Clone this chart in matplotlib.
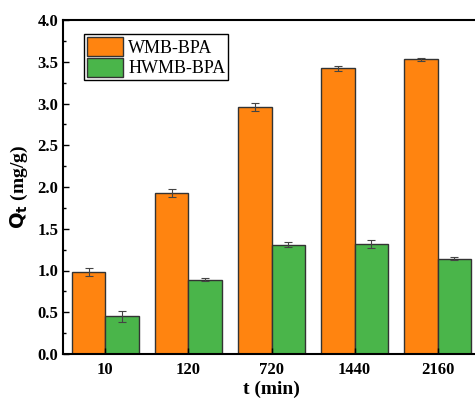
import matplotlib
matplotlib.use('Agg')
import matplotlib.pyplot as plt
import numpy as np

# data
times = ['10', '120', '720', '1440', '2160']
wmb = [0.98, 1.93, 2.96, 3.42, 3.53]
wmb_err = [0.05, 0.05, 0.05, 0.03, 0.02]
hwmb = [0.45, 0.89, 1.31, 1.32, 1.14]
hwmb_err = [0.07, 0.02, 0.03, 0.05, 0.02]

plt.rcParams['font.family'] = 'Liberation Serif'

fig = plt.figure(figsize=(4.75, 4.01), dpi=100)
ax = fig.add_axes([63 / 475, 47 / 401, 417 / 475, 334 / 401])

x = np.arange(len(times))
w = 0.4
err_kw = dict(ecolor='#444444', elinewidth=0.8, capsize=3, capthick=0.8)
ax.bar(x - w / 2, wmb, w, yerr=wmb_err, color='#FF8410', edgecolor='#333333',
       linewidth=1.0, label='WMB-BPA', error_kw=err_kw)
ax.bar(x + w / 2, hwmb, w, yerr=hwmb_err, color='#4AB54A', edgecolor='#333333',
       linewidth=1.0, label='HWMB-BPA', error_kw=err_kw)

ax.set_xlim(-0.51, 4.51)
ax.set_ylim(0, 4.0)
ax.set_xticks(x)
ax.set_xticklabels(times)
ax.set_yticks(np.arange(0, 4.01, 0.5))
ax.set_yticks(np.arange(0.25, 4.0, 0.5), minor=True)
ax.tick_params(axis='both', direction='in', labelsize=12, length=4, width=1)
ax.tick_params(axis='x', pad=6)
ax.tick_params(axis='y', which='minor', direction='in', length=2.5, width=1)
for lab in ax.get_xticklabels() + ax.get_yticklabels():
    lab.set_fontweight('bold')
for sp in ax.spines.values():
    sp.set_linewidth(1.5)

ax.set_xlabel('t (min)', fontsize=14, fontweight='bold', labelpad=2)
ax.set_ylabel(r'$\mathbf{Q_t}$ (mg/g)', fontsize=14, fontweight='bold', labelpad=5)

leg = ax.legend(loc='upper left', bbox_to_anchor=(0.05, 0.958), fancybox=False,
                edgecolor='black', fontsize=13, handlelength=2.0, handleheight=1.3,
                borderpad=0.15, labelspacing=0.05, handletextpad=0.3, borderaxespad=0)
leg.get_frame().set_linewidth(1.0)
leg.get_frame().set_alpha(1)

fig.savefig('out.png', dpi=100)
